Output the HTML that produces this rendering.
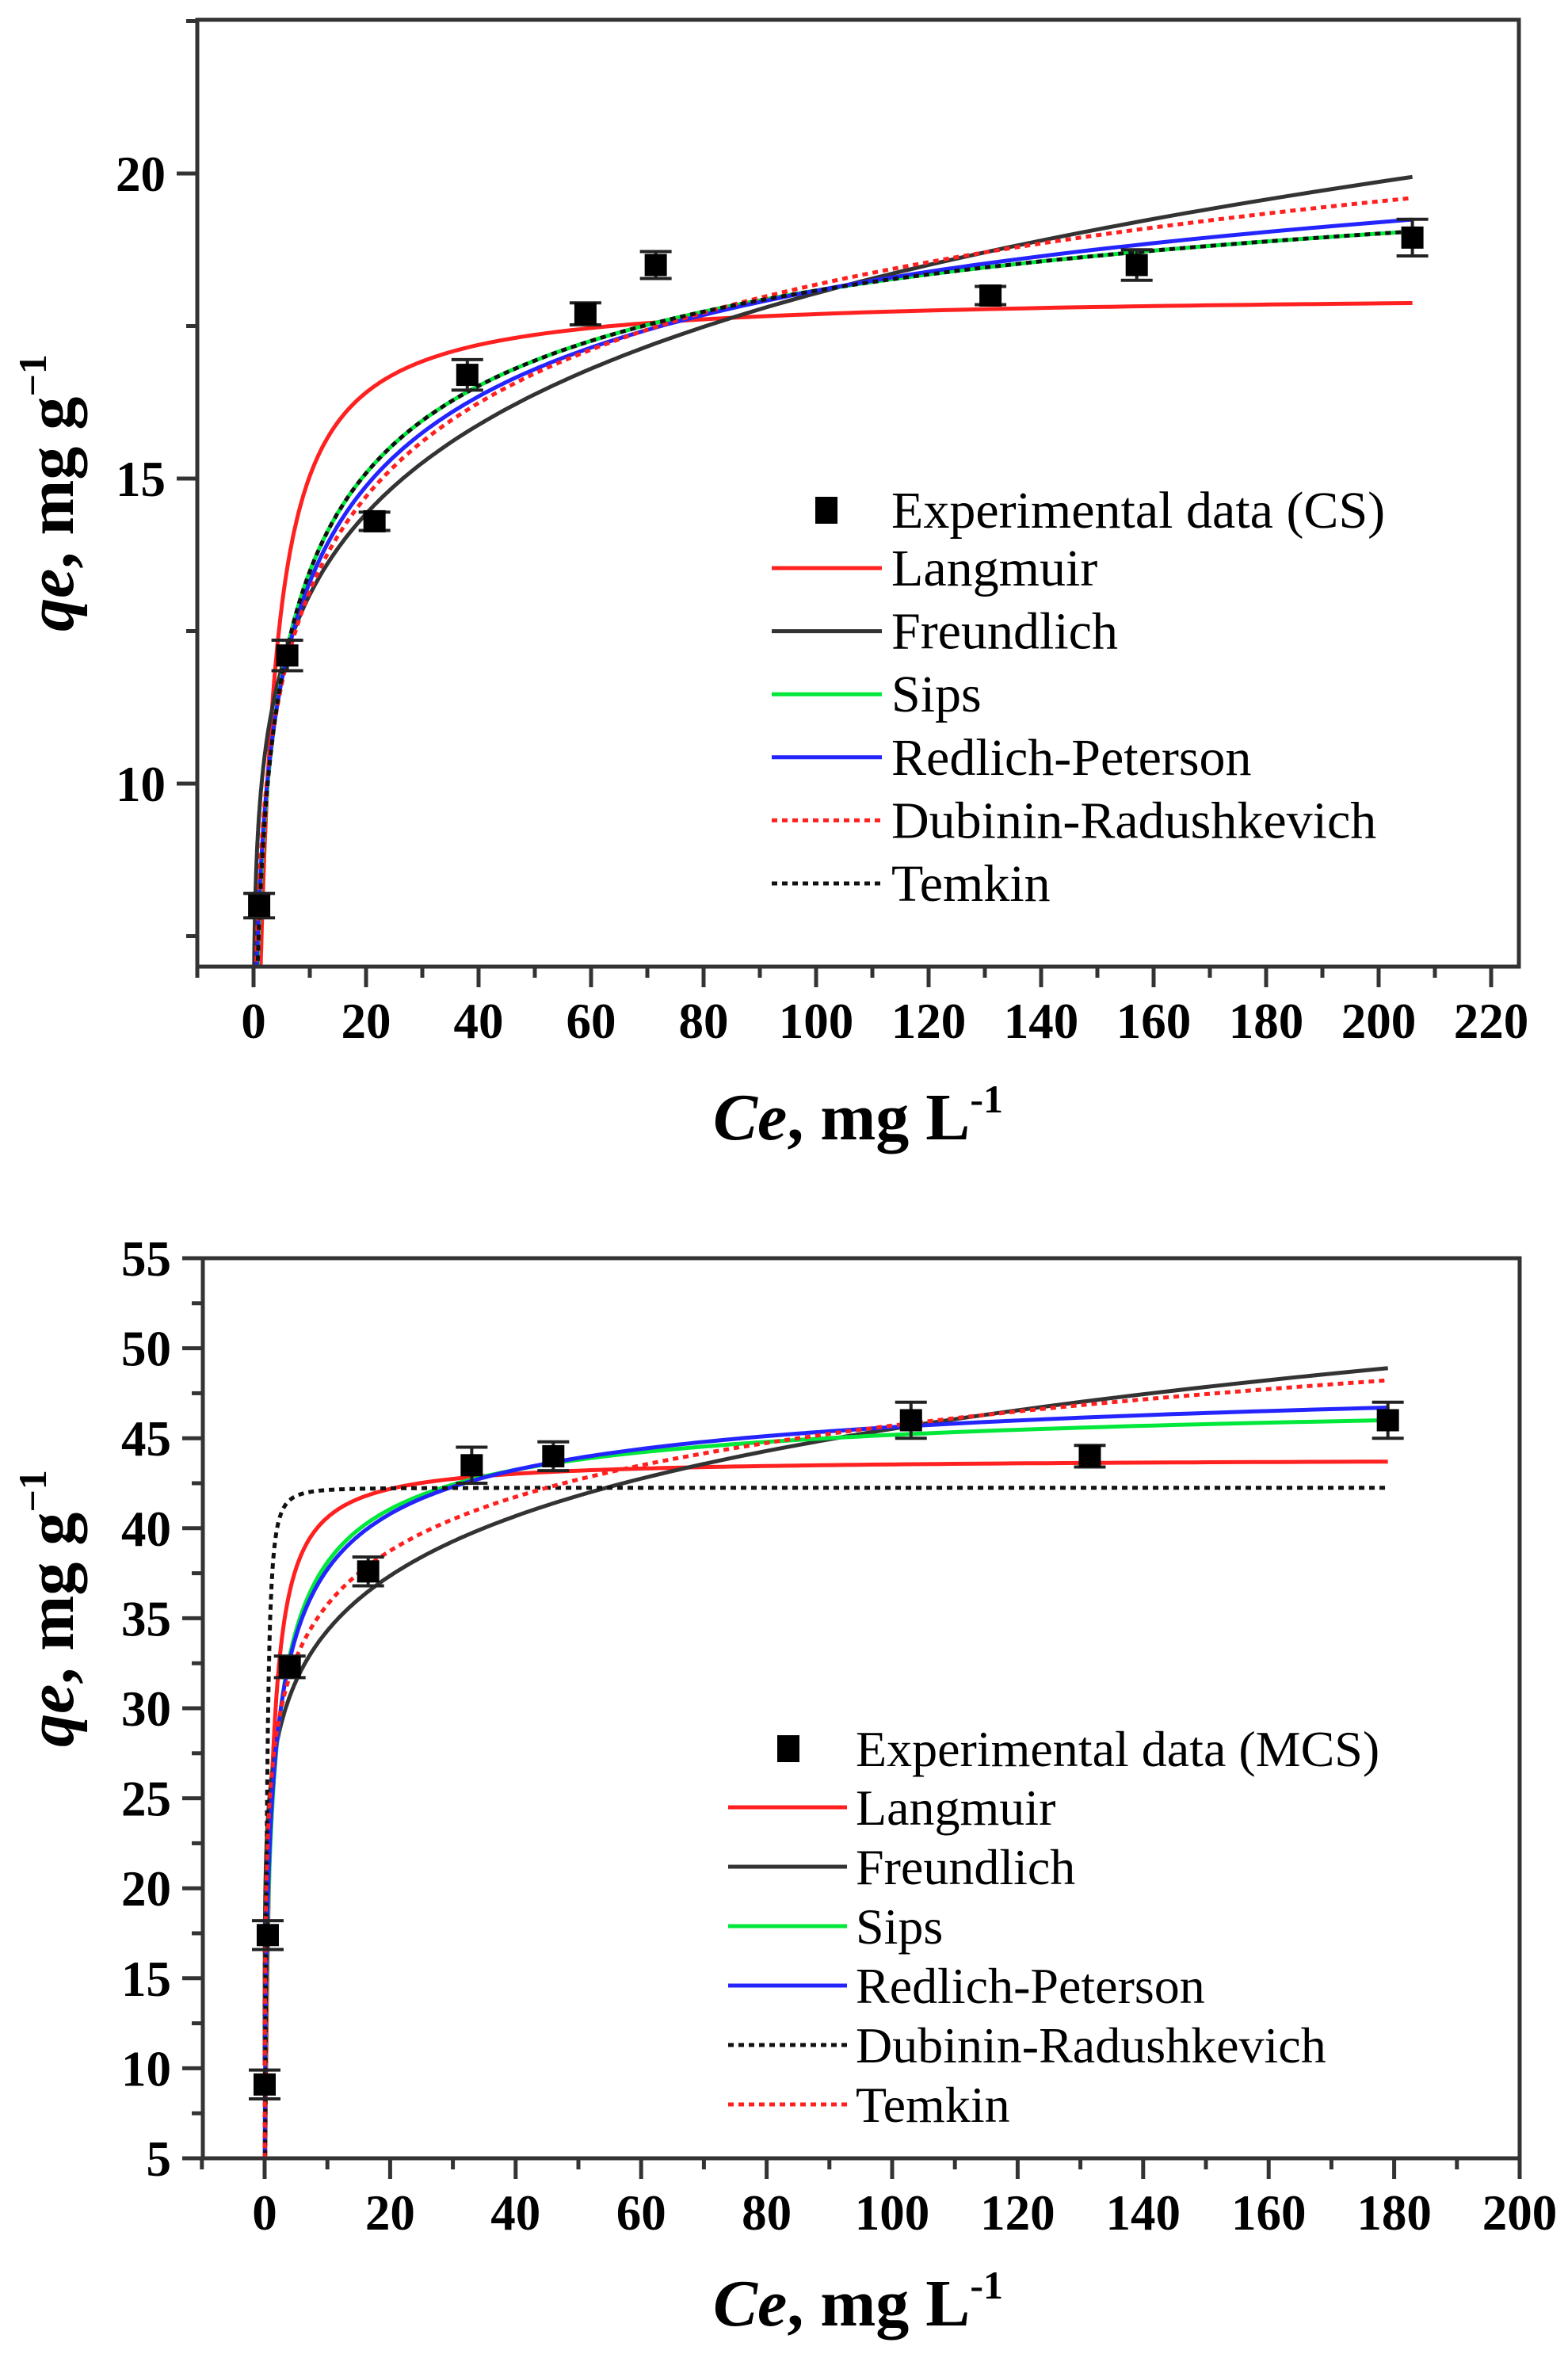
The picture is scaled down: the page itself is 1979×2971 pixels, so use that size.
<!DOCTYPE html>
<html><head><meta charset="utf-8"><style>
html,body{margin:0;padding:0;background:#fff}
svg{display:block}
text{font-family:"Liberation Serif",serif}
</style></head><body>
<svg id="s" width="1979" height="2971" viewBox="0 0 1979 2971" xmlns="http://www.w3.org/2000/svg">
<rect width="1979" height="2971" fill="#fff"/>
<!-- Top axis titles -->
<text x="1083" y="1438" font-size="84" font-weight="bold" text-anchor="middle"><tspan font-style="italic">Ce</tspan>, mg L<tspan font-size="50" dy="-34">-1</tspan></text>
<text transform="translate(92,622) rotate(-90)" font-size="84" font-weight="bold" text-anchor="middle"><tspan font-style="italic">qe</tspan>,  mg g<tspan font-size="50" dy="-34">−1</tspan></text>
<!-- Bottom axis titles -->
<text x="1083" y="2935" font-size="84" font-weight="bold" text-anchor="middle"><tspan font-style="italic">Ce</tspan>, mg L<tspan font-size="50" dy="-34">-1</tspan></text>
<text transform="translate(92,2030) rotate(-90)" font-size="84" font-weight="bold" text-anchor="middle"><tspan font-style="italic">qe</tspan>,  mg g<tspan font-size="50" dy="-34">−1</tspan></text>
<g id="g"></g>
</svg>
<script>
var NS="http://www.w3.org/2000/svg",G=document.getElementById('g');
function el(t,a,txt){var e=document.createElementNS(NS,t);for(var k in a)e.setAttribute(k,a[k]);if(txt!==undefined)e.textContent=txt;G.appendChild(e);return e;}
function panel(P){
 var X=function(v){return P.x0+P.sx*v},Y=function(v){return P.y0-P.sy*(v-P.ymin)};
 var clipId='c'+P.id;
 var d=document.createElementNS(NS,'clipPath');d.setAttribute('id',clipId);
 var r=document.createElementNS(NS,'rect');r.setAttribute('x',P.L);r.setAttribute('y',P.T);r.setAttribute('width',P.R-P.L);r.setAttribute('height',P.B-P.T);d.appendChild(r);G.appendChild(d);
 // curves
 P.curves.forEach(function(c){
  var pts=[];for(var i=0;i<=600;i++){var C=0.0005*Math.pow(c.xe/0.0005,i/600);var q=c.f(C);if(!isFinite(q))continue;pts.push(X(C).toFixed(1)+','+Y(q).toFixed(1));}
  var a={points:pts.join(' '),fill:'none',stroke:c.col,'stroke-width':5,'clip-path':'url(#'+clipId+')'};
  if(c.dash)a['stroke-dasharray']='7,6';
  el('polyline',a);
 });
 // points
 P.pts.forEach(function(p){
  var cx=X(p[0]),cy=Y(p[1]),e=p[2]*P.sy;
  el('line',{x1:cx,y1:cy-e,x2:cx,y2:cy+e,stroke:'#222','stroke-width':4});
  el('line',{x1:cx-20,y1:cy-e,x2:cx+20,y2:cy-e,stroke:'#222','stroke-width':4});
  el('line',{x1:cx-20,y1:cy+e,x2:cx+20,y2:cy+e,stroke:'#222','stroke-width':4});
  el('rect',{x:cx-14,y:cy-14,width:28,height:28,fill:'#000'});
 });
 // frame
 el('rect',{x:P.L,y:P.T,width:P.R-P.L,height:P.B-P.T,fill:'none',stroke:'#333','stroke-width':5});
 // x ticks
 for(var v=P.xt0;v<=P.xt1+1e-6;v+=P.xstep/2){var maj=Math.abs(Math.round(v/P.xstep)*P.xstep-v)<1e-6;var x=X(v);
  el('line',{x1:x,y1:P.B,x2:x,y2:P.B+(maj?26:14),stroke:'#333','stroke-width':5});
  if(maj&&v>=0)el('text',{x:x,y:P.B+90,'font-size':63,'font-weight':'bold','text-anchor':'middle'},String(v));}
 // y ticks
 for(var v=P.yt0;v<=P.yt1+1e-6;v+=P.ystep/2){var maj=Math.abs(Math.round(v/P.ystep)*P.ystep-v)<1e-6;var y=Y(v);
  el('line',{x1:P.L-(maj?26:14),y1:y,x2:P.L,y2:y,stroke:'#333','stroke-width':5});
  if(maj&&(!P.ylabs||P.ylabs.indexOf(v)>=0))el('text',{x:P.L-40,y:y+22,'font-size':63,'font-weight':'bold','text-anchor':'end'},String(v));}
 // legend
 var Lg=P.leg;
 el('rect',{x:Lg.sqx-14,y:Lg.sqy-17,width:28,height:34,fill:'#000'});
 el('text',{x:Lg.tx,y:Lg.sqy+22,'font-size':Lg.fs},Lg.title);
 Lg.items.forEach(function(it,i){var y=Lg.y0+i*Lg.dy;
  var a={x1:Lg.lx0,y1:y,x2:Lg.lx1,y2:y,stroke:it[1],'stroke-width':5};if(it[2])a['stroke-dasharray']='7,6';el('line',a);
  el('text',{x:Lg.tx,y:y+22,'font-size':Lg.fs},it[0]);});
}
function sips(qm,K,n){return function(C){var u=Math.pow(K*C,n);return qm*u/(1+u)}}
var RED='#ff2020',BLK='#333',GRN='#00e83a',BLU='#2424ff';
panel({id:1,L:249,R:1917,T:25,B:1220,x0:320,sx:7.1,y0:1220,sy:77,ymin:7,xt0:-10,xt1:220,xstep:20,yt0:7.5,yt1:22.5,ystep:5,ylabs:[10,15,20],
 curves:[
  {col:RED,xe:206,f:function(C){return 18.05*0.5*C/(1+0.5*C)}},
  {col:BLK,xe:206,f:function(C){return 9.51*Math.pow(C,0.139)}},
  {col:GRN,xe:206,f:sips(22,0.268,0.465)},
  {col:BLU,xe:206,f:sips(24,0.175,0.39)},
  {col:RED,xe:206,dash:1,f:sips(28,0.0685,0.32)},
  {col:'#111',xe:206,dash:1,f:sips(22,0.268,0.465)}
 ],
 pts:[[1,8,0.2],[6,12.1,0.25],[21.5,14.3,0.15],[38,16.7,0.25],[59,17.7,0.18],[71.5,18.5,0.22],[131,18,0.15],[157,18.5,0.25],[206,18.95,0.3]],
 leg:{sqx:1043,sqy:644,tx:1125,fs:66,title:'Experimental data (CS)',lx0:974,lx1:1113,y0:717,dy:79.6,
  items:[['Langmuir',RED],['Freundlich',BLK],['Sips',GRN],['Redlich-Peterson',BLU],['Dubinin-Radushkevich',RED,1],['Temkin','#111',1]]}
});
panel({id:2,L:256,R:1918,T:1588,B:2724,x0:334,sx:7.92,y0:2724,sy:22.72,ymin:5,xt0:-10,xt1:200,xstep:20,yt0:5,yt1:55,ystep:5,
 curves:[
  {col:RED,xe:179,f:function(C){return 43.9*1.23*C/(1+1.23*C)}},
  {col:BLK,xe:179,f:function(C){return 25.86*Math.pow(C,0.1228)}},
  {col:GRN,xe:179,f:sips(48,0.88,0.62)},
  {col:BLU,xe:179,f:sips(50,0.83,0.53)},
  {col:'#111',xe:179,dash:1,f:function(C){var l=Math.log(1+1/C);return 42.25*Math.exp(-0.33*l*l)}},
  {col:RED,xe:179,dash:1,f:function(C){return 4.32*Math.log(393*C)}}
 ],
 pts:[[0,9.1,0.8],[0.5,17.4,0.8],[4,32.3,0.6],[16.5,37.6,0.8],[33,43.5,1.0],[46,44,0.8],[103,46,1.0],[131.5,44,0.6],[179,46,1.0]],
 leg:{sqx:995,sqy:2207,tx:1080,fs:64,title:'Experimental data (MCS)',lx0:919,lx1:1069,y0:2281,dy:75,
  items:[['Langmuir',RED],['Freundlich',BLK],['Sips',GRN],['Redlich-Peterson',BLU],['Dubinin-Radushkevich','#111',1],['Temkin',RED,1]]}
});
</script>
</body></html>
